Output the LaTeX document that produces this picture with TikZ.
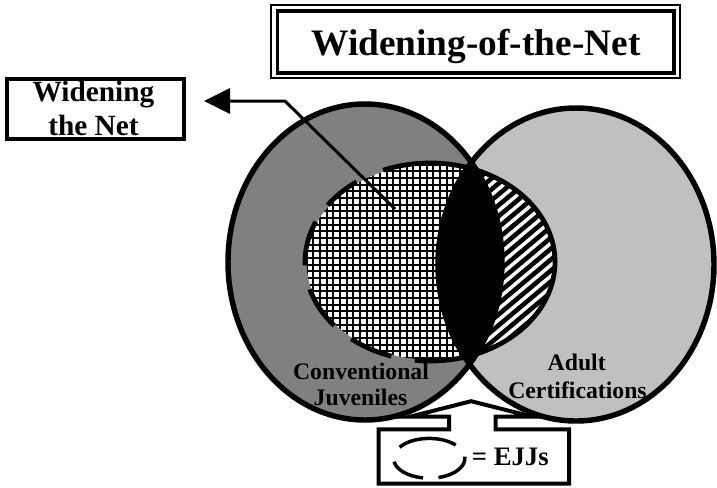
\documentclass[tikz,border=0pt]{standalone}
\usepackage{fontspec}
\setmainfont{Liberation Serif}
\usetikzlibrary{arrows.meta}
\definecolor{juvgray}{HTML}{808080}
\definecolor{adultgray}{HTML}{C0C0C0}

\begin{document}
\begin{tikzpicture}[x=0.75pt,y=-0.75pt,
  rim/.style={draw=black, line width=4.1pt},
  ejjrim/.style={draw=black, line width=3.6pt},
  gridline/.style={draw=black, line width=1.5pt},
  stripe/.style={draw=white, line width=2.6pt},
  pointer/.style={draw=black, line width=2.25pt, -{Triangle[length=19.5pt, width=18.75pt]}},
  labelbox/.style={draw=black, line width=3pt, fill=white, minimum width=133pt, minimum height=45pt, inner sep=0pt},
  frameouter/.style={draw=black, line width=1.5pt, minimum width=306.5pt, minimum height=55.1pt, inner sep=0pt},
  frameinner/.style={draw=black, line width=2.6pt, minimum width=297.4pt, minimum height=46.5pt, inner sep=0pt},
  calloutline/.style={draw=black, line width=3pt, fill=white, line join=miter},
  legendrim/.style={draw=black, line width=2.6pt},
  titletext/.style={font=\bfseries\fontsize{28pt}{30pt}\selectfont, anchor=base, inner sep=0pt},
  boxtext/.style={font=\bfseries\fontsize{22pt}{25pt}\selectfont, anchor=base, inner sep=0pt},
  settext/.style={font=\bfseries\fontsize{17.8pt}{20pt}\selectfont, anchor=base, inner sep=0pt},
  keytext/.style={font=\bfseries\fontsize{20pt}{22pt}\selectfont, anchor=base west, inner sep=0pt}]

\useasboundingbox (0,0) rectangle (717,487);
\fill[white] (0,0) rectangle (717,487);

% the two populations
\fill[juvgray] (365,262) ellipse [x radius=137, y radius=158];
\fill[adultgray] (576,264.5) ellipse [x radius=138, y radius=156.5];

% EJJ region: cross-hatched part (grid lines snapped to whole units)
\begin{scope}
  \clip (430,262) ellipse [x radius=123.5, y radius=97.5];
  \fill[white] (300,158) rectangle (560,366);
  \foreach \k in {0,...,40} {
    \pgfmathsetmacro{\gx}{round(300+6.67*\k)}
    \draw[gridline] (\gx,158) -- (\gx,366);
  }
  \foreach \k in {0,...,32} {
    \pgfmathsetmacro{\gy}{round(158+6.67*\k)}
    \draw[gridline] (300,\gy) -- (560,\gy);
  }
\end{scope}

% EJJ region inside the adult population: diagonal stripes
\begin{scope}
  \clip (430,262) ellipse [x radius=125, y radius=99];
  \clip (576,264.5) ellipse [x radius=138, y radius=156.5];
  \fill[black] (400,150) rectangle (570,370);
  \foreach \sc in {180,193,...,580} \draw[stripe] (\sc,380) -- ++(262,-220);
\end{scope}

% overlap of both populations
\begin{scope}
  \clip (365,262) ellipse [x radius=137, y radius=158];
  \fill[black] (576,264.5) ellipse [x radius=138, y radius=156.5];
\end{scope}

% outlines
\draw[rim] (365,262) ellipse [x radius=137, y radius=158];
\draw[rim] (576,264.5) ellipse [x radius=138, y radius=156.5];

% EJJ boundary: dashed on the juvenile side, solid on the adult side
\foreach \da/\db in {-126/-145, -156/-182, -196/-220, -231/-252, -263/-472}
  \draw[ejjrim] ([shift={(\da:125 and 99)}]430,262) arc [start angle=\da, end angle=\db, x radius=125, y radius=99];

% pointer to the net-widening label
\coordinate (pstart) at (395,209);
\coordinate (pbend) at (285,101);
\coordinate (ptip) at (204,101);
\draw[pointer] (pstart) -- (pbend) -- (ptip);

% set labels
\node[settext] (conv) at (361,379.3) {Conventional};
\node[settext] (juv) at (360.5,405) {Juveniles};
\node[settext] (adult) at (576.7,370.7) {Adult};
\node[settext] (cert) at (577.5,398.3) {Certifications};

% key callout
\coordinate (k1) at (378.7,483.7);
\coordinate (k2) at (378.7,429.3);
\coordinate (k3) at (449,429.3);
\coordinate (k4) at (449,416.7);
\coordinate (k5) at (410,416.7);
\coordinate (k6) at (471.2,401.2);
\coordinate (k7) at (532.4,416.7);
\coordinate (k8) at (495.5,416.7);
\coordinate (k9) at (495.5,429.3);
\coordinate (k10) at (569,429.3);
\coordinate (k11) at (569,483.7);
\draw[calloutline] (k1) -- (k2) -- (k3) -- (k4) -- (k5) -- (k6) -- (k7) -- (k8) -- (k9) -- (k10) -- (k11) -- cycle;
\foreach \da/\db in {-42/-146, -190/-260, -285/-365}
  \draw[legendrim] ([shift={(\da:35.7 and 19.9)}]429.2,458.3) arc [start angle=\da, end angle=\db, x radius=35.7, y radius=19.9];
\node[keytext] (key) at (471.7,465) {= EJJs};

% title
\node[frameouter] (tframe) at (475.6,41.75) {};
\node[frameinner] (tframein) at (475.6,42) {};
\node[titletext] (title) at (476,55) {Widening-of-the-Net};

% label box
\node[labelbox] (wbox) at (95.35,109) {};
\node[boxtext] (w1) at (93.5,101.7) {Widening};
\node[boxtext] (w2) at (93.5,135) {the Net};
\end{tikzpicture}
\end{document}
